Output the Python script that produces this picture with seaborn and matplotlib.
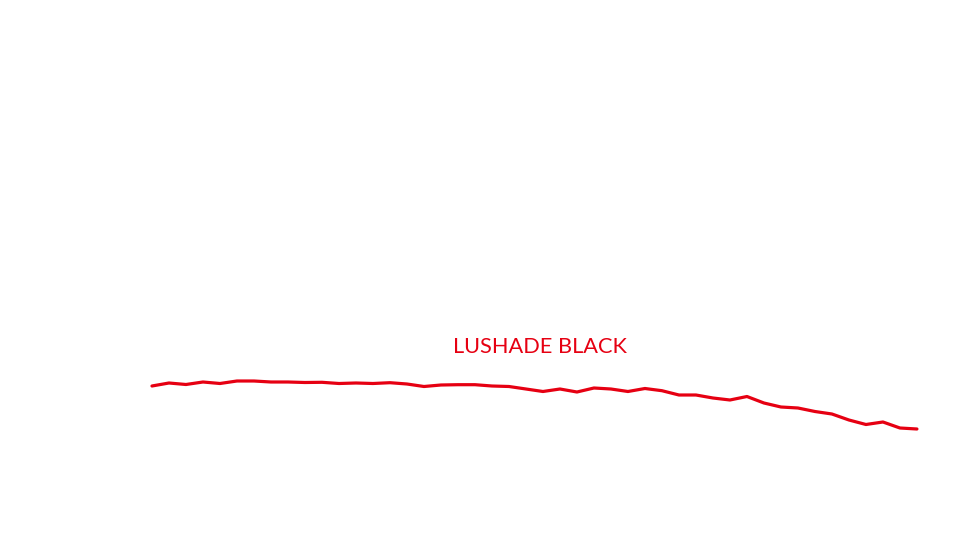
import matplotlib
matplotlib.use("Agg")
import matplotlib.pyplot as plt
import numpy as np
import pandas as pd
import seaborn as sns

# weekly index and price-like series
period = list(range(46))
value = [54, 57, 55.5, 58, 56.5, 59, 59, 58, 58, 57.5,
         57.7, 56.5, 57, 56.5, 57.3, 56, 53.5, 55, 55.3, 55.3,
         54, 53.5, 51, 48.5, 51, 48, 52, 51, 48.5, 51.5,
         49.3, 45, 45, 42, 40, 43.5, 37, 33, 32, 28.5,
         26, 20, 15.5, 18, 12, 11]
series_name = "LUSHADE BLACK"

df = pd.DataFrame({"period": period, "value": value})

sns.set_style("white")
plt.rcParams["font.family"] = ["Lato", "DejaVu Sans"]

fig = plt.figure(figsize=(9.71, 5.36), dpi=100)
ax = fig.add_axes([0, 0, 1, 1])
sns.lineplot(data=df, x="period", y="value", ax=ax, color="#E60012",
             linewidth=2.3, solid_joinstyle="round", solid_capstyle="round")
ax.set_xlim(-8.94, 48.18)
ax.set_ylim(-96, 440)
ax.set_axis_off()

fig.text(540 / 971, 1 - 347 / 536, series_name, color="#E60012",
         fontsize=15.7, ha="center", va="center")

fig.savefig("out.png", dpi=100, facecolor="white")
